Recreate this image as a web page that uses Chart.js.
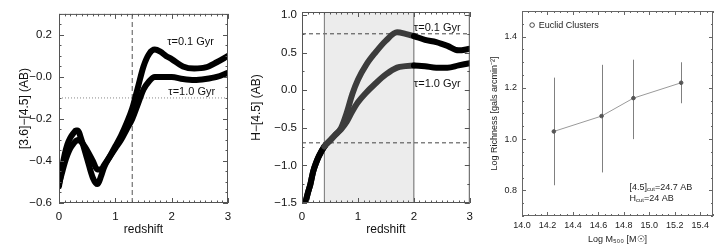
<!DOCTYPE html>
<html>
<head>
<meta charset="utf-8">
<script src="https://cdn.jsdelivr.net/npm/chart.js@4.4.1/dist/chart.umd.min.js"></script>
<style>
  html, body { margin: 0; padding: 0; background: #fff; }
  #wrap { position: relative; width: 720px; height: 244px; }
  canvas { position: absolute; top: 0; }
</style>
</head>
<body>
<div id="wrap">
  <canvas id="c1" width="240" height="244" style="left:0"></canvas>
  <canvas id="c2" width="240" height="244" style="left:240px"></canvas>
  <canvas id="c3" width="240" height="244" style="left:480px"></canvas>
</div>
<script>
// panel 1 : [3.6]-[4.5] colour vs redshift
const z1 = [0, 0.05, 0.1, 0.15, 0.2, 0.25, 0.3, 0.33, 0.4, 0.5, 0.6, 0.68, 0.75, 0.8, 0.9, 1.0, 1.1, 1.2, 1.3, 1.4, 1.5, 1.6, 1.7, 1.8, 1.9, 2.0, 2.2, 2.4, 2.6, 2.8, 3.0];
const irac01 = [-0.52, -0.44, -0.37, -0.32, -0.29, -0.27, -0.255, -0.255, -0.3, -0.39, -0.48, -0.51, -0.47, -0.43, -0.38, -0.33, -0.28, -0.22, -0.15, -0.05, 0.05, 0.11, 0.13, 0.12, 0.1, 0.085, 0.05, 0.04, 0.045, 0.07, 0.1];
const irac10 = [-0.51, -0.46, -0.41, -0.37, -0.34, -0.32, -0.305, -0.3, -0.31, -0.35, -0.4, -0.44, -0.44, -0.42, -0.38, -0.34, -0.3, -0.25, -0.2, -0.13, -0.06, -0.02, 0.0, 0.0, 0.0, 0.0, -0.01, -0.015, -0.01, 0.0, 0.02];
const y1Ticks = [-0.6, -0.4, -0.2, 0, 0.2];
const y1Labels = ['\u22120.6', '\u22120.4', '\u22120.2', '\u22120.0', '0.2'];

// panel 2 : H-[4.5] colour vs redshift
const z2 = [0.03, 0.06, 0.1, 0.15, 0.2, 0.25, 0.3, 0.4, 0.5, 0.6, 0.7, 0.8, 0.9, 1.0, 1.15, 1.3, 1.5, 1.7, 1.85, 2.0, 2.2, 2.4, 2.6, 2.8, 3.0];
const h01 = [-1.6, -1.5, -1.38, -1.25, -1.08, -0.97, -0.88, -0.75, -0.67, -0.59, -0.5, -0.3, -0.05, 0.14, 0.34, 0.49, 0.66, 0.77, 0.75, 0.72, 0.67, 0.64, 0.59, 0.53, 0.55];
const h10 = [-1.6, -1.5, -1.38, -1.25, -1.08, -0.97, -0.88, -0.75, -0.67, -0.59, -0.52, -0.42, -0.28, -0.16, -0.03, 0.08, 0.21, 0.3, 0.32, 0.33, 0.32, 0.3, 0.3, 0.33, 0.36];
const y2Ticks = [-1.5, -1, -0.5, 0, 0.5, 1];
const y2Labels = ['\u22121.5', '\u22121.0', '\u22120.5', '0.0', '0.5', '1.0'];
const zTicks = [0, 1, 2, 3];
const zLabels = ['0', '1', '2', '3'];

// panel 3 : richness vs mass
const mass = [14.25, 14.625, 14.875, 15.25];
const richness = [1.03, 1.09, 1.16, 1.22];
const richLow = [0.82, 0.87, 1.0, 1.14];
const richHigh = [1.24, 1.29, 1.31, 1.3];
const massTicks = [14.0, 14.2, 14.4, 14.6, 14.8, 15.0, 15.2, 15.4];
const richTicks = [0.8, 1.0, 1.2, 1.4];

const FONT = 'Liberation Sans, Arial, Helvetica, sans-serif';

function pts(xs, ys) {
  return xs.map((x, i) => ({ x: x, y: ys[i] }));
}

// inward ticks on all four sides plus the frame, IDL style
const frameTicks = {
  id: 'frameTicks',
  afterDatasetsDraw(chart, args, o) {
    const { ctx, chartArea: a, scales } = chart;
    ctx.save();
    ctx.strokeStyle = o.color;
    ctx.lineWidth = 1;
    ctx.beginPath();
    const marks = (scale, major, minor, horiz) => {
      const n0 = Math.ceil(scale.min / minor - 1e-6), n1 = Math.floor(scale.max / minor + 1e-6);
      for (let i = n0; i <= n1; i++) {
        const v = i * minor;
        const isMajor = Math.abs(v / major - Math.round(v / major)) < 1e-6;
        const len = isMajor ? o.major : o.minor;
        const p = Math.round(scale.getPixelForValue(v)) + 0.5;
        if (horiz) {
          ctx.moveTo(p, a.bottom); ctx.lineTo(p, a.bottom - len);
          ctx.moveTo(p, a.top); ctx.lineTo(p, a.top + len);
        } else {
          ctx.moveTo(a.left, p); ctx.lineTo(a.left + len, p);
          ctx.moveTo(a.right, p); ctx.lineTo(a.right - len, p);
        }
      }
    };
    marks(scales.x, o.xMajor, o.xMinor, true);
    marks(scales.y, o.yMajor, o.yMinor, false);
    ctx.stroke();
    ctx.strokeRect(a.left + 0.5, a.top + 0.5, a.width - 1, a.height - 1);
    ctx.restore();
  }
};

// text notes placed in data coordinates; parts flagged sub are drawn as subscripts
function notes(items, size, color) {
  return {
    id: 'notes',
    afterDatasetsDraw(chart) {
      const { ctx, scales: { x, y } } = chart;
      ctx.save();
      ctx.fillStyle = color;
      ctx.strokeStyle = color;
      ctx.textBaseline = 'middle';
      items.forEach(t => {
        let px = x.getPixelForValue(t.x);
        const py = y.getPixelForValue(t.y);
        if (t.marker) {
          ctx.beginPath();
          ctx.lineWidth = 0.8;
          ctx.arc(px + 2.5, py, 2.3, 0, Math.PI * 2);
          ctx.stroke();
          px += 9;
        }
        t.parts.forEach(p => {
          ctx.font = (p.sub ? size * 0.65 : size) + 'px ' + FONT;
          ctx.fillText(p.text, px, p.sub ? py + size * 0.3 : py);
          px += ctx.measureText(p.text).width;
        });
      });
      ctx.restore();
    }
  };
}

// grey band of panel 2
const band = {
  id: 'band',
  beforeDatasetsDraw(chart) {
    const { ctx, chartArea: a, scales: { x } } = chart;
    const x0 = x.getPixelForValue(0.4), x1 = x.getPixelForValue(2.0);
    ctx.save();
    ctx.fillStyle = '#ececec';
    ctx.fillRect(x0, a.top, x1 - x0, a.height);
    ctx.restore();
  }
};

const errorBars = {
  id: 'errorBars',
  beforeDatasetsDraw(chart) {
    const { ctx, scales: { x, y } } = chart;
    ctx.save();
    ctx.strokeStyle = '#808080';
    ctx.lineWidth = 1;
    ctx.beginPath();
    mass.forEach((m, i) => {
      const px = Math.round(x.getPixelForValue(m)) + 0.5;
      ctx.moveTo(px, y.getPixelForValue(richLow[i]));
      ctx.lineTo(px, y.getPixelForValue(richHigh[i]));
    });
    ctx.stroke();
    ctx.restore();
  }
};

function axis(o) {
  const horiz = o.pos === 'bottom';
  return {
    type: 'linear',
    position: o.pos,
    min: o.min,
    max: o.max,
    grid: { display: false, drawTicks: false },
    border: { display: false },
    afterBuildTicks: s => { s.ticks = o.ticks.map(v => ({ value: v })); },
    afterFit: s => { if (horiz) s.height = o.size; else s.width = o.size; },
    ticks: {
      autoSkip: false,
      maxRotation: 0,
      padding: o.tickPad,
      color: o.color,
      font: { family: FONT, size: o.font },
      callback: v => o.labels[o.ticks.indexOf(v)]
    },
    title: {
      display: true,
      text: o.title,
      color: o.color,
      font: { family: FONT, size: o.titleFont, lineHeight: 1.1 },
      padding: horiz ? { top: 0, bottom: o.titlePad } : { top: o.titlePad, bottom: 0 }
    }
  };
}

function curve(data, width, segColor) {
  const ds = {
    data: data,
    borderColor: '#000',
    borderWidth: width,
    pointRadius: 0,
    cubicInterpolationMode: 'monotone',
    borderCapStyle: 'round',
    borderJoinStyle: 'round',
    clip: 0,
    order: 1
  };
  if (segColor) ds.segment = { borderColor: segColor };
  return ds;
}

function refLine(data, color, dash) {
  return { data: data, borderColor: color, borderWidth: 1, borderDash: dash, pointRadius: 0, clip: 0, order: 2 };
}

function baseOptions(pad, x, y, ticks) {
  return {
    responsive: false,
    animation: false,
    devicePixelRatio: 1,
    layout: { padding: pad },
    scales: { x: x, y: y },
    plugins: { legend: { display: false }, tooltip: { enabled: false }, frameTicks: ticks }
  };
}

// panel 1
new Chart(document.getElementById('c1'), {
  type: 'line',
  data: {
    datasets: [
      refLine([{ x: 1.3, y: -0.6 }, { x: 1.3, y: 0.3 }], '#555', [5, 3]),
      refLine([{ x: 0, y: -0.1 }, { x: 3, y: -0.1 }], '#888', [1, 2]),
      curve(pts(z1, irac01), 6),
      curve(pts(z1, irac10), 6)
    ]
  },
  options: baseOptions(
    { top: 12, right: 12, left: 0, bottom: 0 },
    axis({ pos: 'bottom', min: 0, max: 3, ticks: zTicks, labels: zLabels, size: 41, tickPad: 7, font: 11.5,
           title: 'redshift', titleFont: 12, titlePad: 8, color: '#111' }),
    axis({ pos: 'left', min: -0.6, max: 0.3, ticks: y1Ticks, labels: y1Labels, size: 59, tickPad: 7, font: 11.5,
           title: '[3.6]\u2212[4.5] (AB)', titleFont: 12, titlePad: 18, color: '#111' }),
    { color: '#555', major: 5, minor: 2.5, xMajor: 1, xMinor: 0.1, yMajor: 0.2, yMinor: 0.05 }
  ),
  plugins: [frameTicks, notes([
    { x: 1.92, y: 0.165, parts: [{ text: '\u03c4=0.1 Gyr' }] },
    { x: 1.94, y: -0.07, parts: [{ text: '\u03c4=1.0 Gyr' }] }
  ], 11, '#111')]
});

// panel 2
const inBand = c => (c.p0.parsed.x >= 0.4 - 1e-9 && c.p1.parsed.x <= 2.0 + 1e-9) ? '#3c3c3c' : '#000';
new Chart(document.getElementById('c2'), {
  type: 'line',
  data: {
    datasets: [
      refLine([{ x: 0.4, y: -1.5 }, { x: 0.4, y: 1.04 }], '#777', []),
      refLine([{ x: 2.0, y: -1.5 }, { x: 2.0, y: 1.04 }], '#666', []),
      refLine([{ x: 0, y: 0.75 }, { x: 3, y: 0.75 }], '#444', [4, 3]),
      refLine([{ x: 0, y: -0.7 }, { x: 3, y: -0.7 }], '#444', [4, 3]),
      curve(pts(z2, h01), 6, inBand),
      curve(pts(z2, h10), 6, inBand)
    ]
  },
  options: baseOptions(
    { top: 12, right: 9, left: 0, bottom: 0 },
    axis({ pos: 'bottom', min: 0, max: 3, ticks: zTicks, labels: zLabels, size: 41, tickPad: 7, font: 11.5,
           title: 'redshift', titleFont: 12, titlePad: 8, color: '#111' }),
    axis({ pos: 'left', min: -1.5, max: 1.04, ticks: y2Ticks, labels: y2Labels, size: 62, tickPad: 5, font: 11.5,
           title: 'H\u2212[4.5] (AB)', titleFont: 12, titlePad: 10, color: '#111' }),
    { color: '#555', major: 5, minor: 2.5, xMajor: 1, xMinor: 0.1, yMajor: 0.5, yMinor: 0.25 }
  ),
  plugins: [band, frameTicks, notes([
    { x: 2.0, y: 0.83, parts: [{ text: '\u03c4=0.1 Gyr' }] },
    { x: 2.0, y: 0.08, parts: [{ text: '\u03c4=1.0 Gyr' }] }
  ], 11, '#111')]
});

// panel 3
new Chart(document.getElementById('c3'), {
  type: 'line',
  data: {
    datasets: [{
      data: pts(mass, richness),
      borderColor: '#9a9a9a',
      borderWidth: 1,
      pointRadius: 1.8,
      pointBackgroundColor: '#555',
      pointBorderColor: '#555',
      tension: 0
    }]
  },
  options: baseOptions(
    { top: 11, right: 7, left: 0, bottom: 0 },
    axis({ pos: 'bottom', min: 14.0, max: 15.5, ticks: massTicks, labels: massTicks.map(v => v.toFixed(1)), size: 28,
           tickPad: 4, font: 9, title: 'Log M\u2085\u2080\u2080 [M\u2609]', titleFont: 9, titlePad: 0, color: '#222' }),
    axis({ pos: 'left', min: 0.7, max: 1.5, ticks: richTicks, labels: richTicks.map(v => v.toFixed(1)), size: 42,
           tickPad: 5, font: 9, title: 'Log Richness [gals arcmin\u207b\u00b2]', titleFont: 9, titlePad: 10, color: '#222' }),
    { color: '#666', major: 4, minor: 2, xMajor: 0.2, xMinor: 0.05, yMajor: 0.2, yMinor: 0.05 }
  ),
  plugins: [errorBars, frameTicks, notes([
    { x: 14.06, y: 1.445, marker: true, parts: [{ text: 'Euclid Clusters' }] },
    { x: 14.845, y: 0.813, parts: [{ text: '[4.5]' }, { text: 'cut', sub: true }, { text: '=24.7 AB' }] },
    { x: 14.845, y: 0.77, parts: [{ text: 'H' }, { text: 'cut', sub: true }, { text: '=24 AB' }] }
  ], 9, '#222')]
});
</script>
</body>
</html>
